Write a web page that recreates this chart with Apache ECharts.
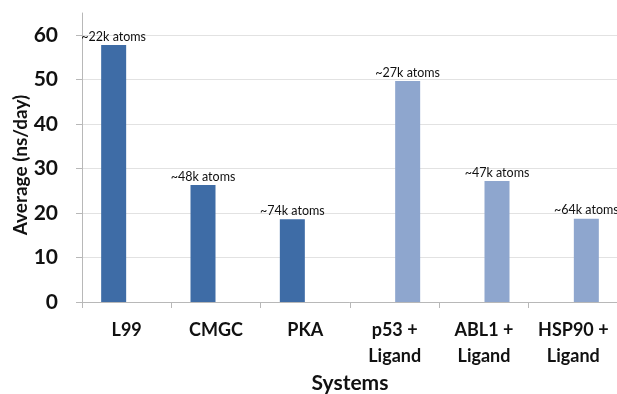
<!DOCTYPE html>
<html>
<head>
<meta charset="utf-8">
<script src="https://cdn.jsdelivr.net/npm/echarts@6/dist/echarts.min.js"></script>
<style>html,body{margin:0;padding:0;background:#fff}#c{width:617px;height:394px}</style>
</head>
<body>
<div id="c"></div>
<script>
var categories = ['L99', 'CMGC', 'PKA', 'p53 +\nLigand', 'ABL1 +\nLigand', 'HSP90 +\nLigand'];
var apoValues = [57.8, 26.3, 18.6, '-', '-', '-'];
var ligandValues = ['-', '-', '-', 49.7, 27.2, 18.7];
var atomLabels = ['~22k atoms', '~48k atoms', '~74k atoms', '~27k atoms', '~47k atoms', '~64k atoms'];
var yTicks = [0, 10, 20, 30, 40, 50, 60];

var font = 'Lato, "Open Sans", sans-serif';
var chart = echarts.init(document.getElementById('c'));
var lbl = {
  show: true, position: 'top', distance: 2,
  fontFamily: font, fontSize: 12.5, color: '#111',
  formatter: function (p) { return atomLabels[p.dataIndex]; }
};
chart.setOption({
  animation: false,
  grid: { left: 82, right: -1, top: 13, bottom: 92, containLabel: false, outerBoundsMode: 'none' },
  xAxis: {
    type: 'category', data: categories,
    name: 'Systems', nameLocation: 'middle', nameGap: 71, nameMoveOverlap: false,
    nameTextStyle: { fontFamily: font, fontWeight: 'bold', fontSize: 21, color: '#111' },
    axisLine: { lineStyle: { color: '#b8b8b8', width: 1 } },
    axisTick: { show: true, length: 6, lineStyle: { color: '#b8b8b8' } },
    axisLabel: { interval: 0, fontFamily: font, fontWeight: 'bold', fontSize: 18, color: '#111', margin: 15, lineHeight: 26 }
  },
  yAxis: {
    type: 'value', min: 0, max: 65, interval: 10,
    name: 'Average (ns/day)', nameLocation: 'middle', nameGap: 52, nameRotate: 90, nameMoveOverlap: false,
    nameTextStyle: { fontFamily: font, fontWeight: 'bold', fontSize: 19, color: '#111', padding: [0, 15, 0, 0] },
    axisLine: { show: true, lineStyle: { color: '#b8b8b8', width: 1 } },
    axisTick: { show: true, length: 6, lineStyle: { color: '#b8b8b8' } },
    axisLabel: {
      fontFamily: font, fontWeight: 'bold', fontSize: 21, color: '#111', margin: 24, showMaxLabel: false,
      formatter: function (v) { return yTicks.indexOf(v) >= 0 ? String(v) : ''; }
    },
    splitLine: { show: true, showMaxLine: false, lineStyle: { color: '#e2e2e2', width: 1 } }
  },
  series: [
    { type: 'bar', data: apoValues, barWidth: 25, barGap: '4%', itemStyle: { color: '#3e6ca6' }, label: lbl },
    { type: 'bar', data: ligandValues, barWidth: 25, barGap: '4%', itemStyle: { color: '#8ea6ce' }, label: lbl }
  ]
});
</script>
</body>
</html>
